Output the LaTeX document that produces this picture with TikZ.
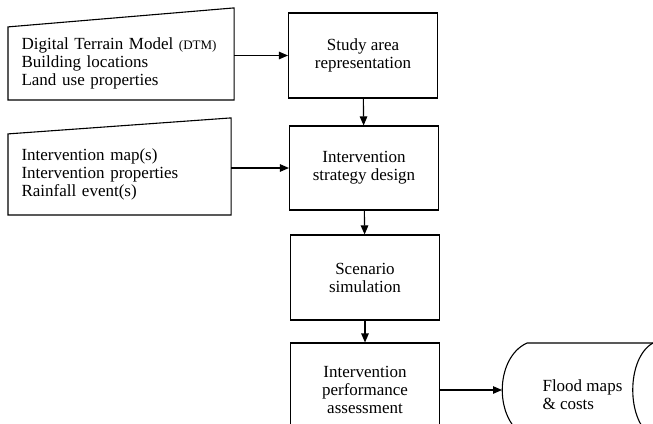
\documentclass[tikz,border=0pt]{standalone}
\usepackage{fontspec}
\setmainfont{Liberation Serif}
\usetikzlibrary{arrows.meta}

\begin{document}
\begin{tikzpicture}[x=1pt, y=-1pt, line width=1.1pt, >={Triangle[length=9pt,width=7.5pt]},
    font=\fontsize{17}{18}\selectfont,
    stepbox/.style={draw, rectangle, minimum width=149pt, minimum height=85pt, align=center, inner sep=0pt},
    inbox/.style={rectangle, align=left, inner xsep=13pt, inner ysep=0pt}]
  \useasboundingbox (0,0) rectangle (653,423);
  \clip (0,0) rectangle (653,423);

  % inputs
  \node[inbox, text width=199pt, minimum height=72pt, anchor=south west] (in1) at (8,100)
    {Digital Terrain Model {\fontsize{13}{14}\selectfont(DTM)}\\Building locations\\Land use properties};
  \draw (in1.south west) -- (in1.south east) -- ([yshift=19pt]in1.north east) -- (in1.north west) -- cycle;
  \node[inbox, text width=196pt, minimum height=80pt, anchor=south west] (in2) at (8,215)
    {Intervention map(s)\\Intervention properties\\Rainfall event(s)};
  \draw (in2.south west) -- (in2.south east) -- ([yshift=16pt]in2.north east) -- (in2.north west) -- cycle;

  % main steps
  \node[stepbox] (study) at (363,55.5) {Study area\\representation};
  \node[stepbox, minimum height=84pt] (design) at (364,168) {Intervention\\strategy design};
  \node[stepbox] (sim) at (365,277.5) {Scenario\\simulation};
  \node[stepbox, minimum height=94pt] (perf) at (365,390) {Intervention\\performance\\assessment};

  % output
  \node[anchor=west, align=left, inner xsep=40pt, inner ysep=0pt] (flood) at (502,395) {Flood maps\\\& costs};
  \draw (660,343) -- (527,343) .. controls (494,358) and (494,422) .. (527,437) -- (660,437);
  \draw (653,343) .. controls (626,358) and (626,422) .. (653,437);

  \draw[->] (in1.east |- study) -- (study);
  \draw[->] (in2.east |- design) -- (design);
  \draw[->] (study) -- (design);
  \draw[->] (design) -- (sim);
  \draw[->] (sim) -- (perf);
  \draw[->] (perf) -- (perf -| flood.west);
\end{tikzpicture}
\end{document}
